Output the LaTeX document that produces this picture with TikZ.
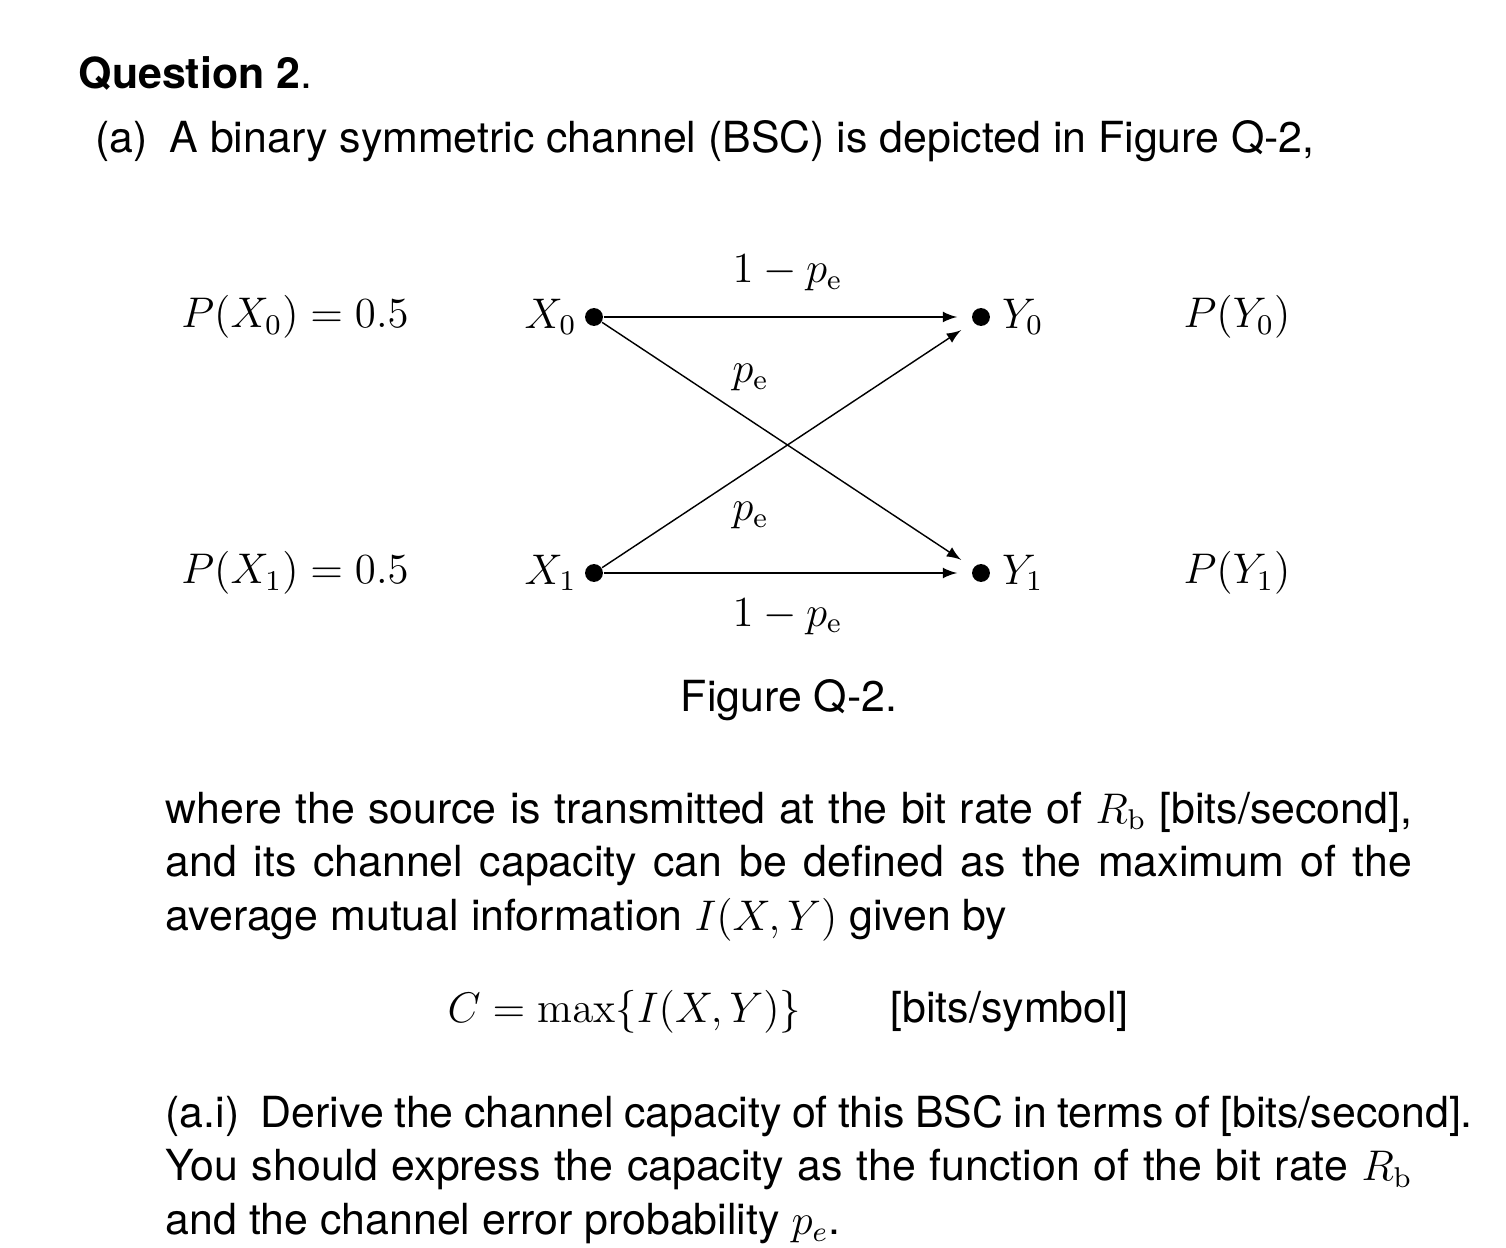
\documentclass[tikz,border=0pt,12pt]{standalone}
\usepackage[no-math]{fontspec}
\setmainfont{TeX Gyre Heros}
\usepackage{amsmath}
\usetikzlibrary{arrows,positioning}

\begin{document}
\begin{tikzpicture}[x=0.28pt,y=-0.28pt,
  txt/.style={anchor=base west,inner sep=0pt},
  para/.style={anchor=base west,inner sep=0pt,text width=349pt,align=justify,
    font=\fontsize{12}{15.1}\selectfont},
  bitdot/.style={circle,fill,inner sep=0pt,minimum size=5pt},
  chan/.style={->,>=latex,shorten >=4pt}]
\useasboundingbox (0,0) rectangle (1506,1248);
\node[txt] (qhead) at (78,89) {\textbf{Question 2}.};
\node[txt] (qa) at (95,153) {(a)\hspace{6pt}A binary symmetric channel (BSC) is depicted in Figure Q-2,};
% channel
\node[bitdot] (x0) at (594,317) {};
\node[bitdot] (x1) at (594,573) {};
\node[bitdot] (y0) at (981,317) {};
\node[bitdot] (y1) at (981,573) {};
\node[left=1pt of x0,inner sep=1pt] (lx0) {$X_0$};
\node[left=1pt of x1,inner sep=1pt] (lx1) {$X_1$};
\node[right=2pt of y0,inner sep=1pt] (ly0) {$Y_0$};
\node[right=2pt of y1,inner sep=1pt] (ly1) {$Y_1$};
\node (px0) at (295,317) {$P(X_0)=0.5$};
\node (px1) at (295,573) {$P(X_1)=0.5$};
\node (py0) at (1237,317) {$P(Y_0)$};
\node (py1) at (1237,573) {$P(Y_1)$};
\draw[chan] (x0) -- node[above=3pt] {$1-p_{\mathrm{e}}$} (y0);
\draw[chan] (x1) -- node[below=3pt] {$1-p_{\mathrm{e}}$} (y1);
\draw[chan] (x0) -- node[pos=0.4,above=4pt] {$p_{\mathrm{e}}$} (y1);
\draw[chan] (x1) -- node[pos=0.4,below=5pt] {$p_{\mathrm{e}}$} (y0);
\node (cap) at (789,700) {Figure Q-2.};
% text below
\node[para] (desc) at (165,823) {where the source is transmitted at the bit rate of $R_{\mathrm{b}}$ [bits/second],\linebreak
  and its channel capacity can be defined as the maximum of the\linebreak
  average mutual information $I(X,Y)$ given by};
\node[txt] (cdef) at (447,1022) {$C=\max\{I(X,Y)\}$};
\node[txt] (cunit) at (890,1022) {[bits/symbol]};
\node[para] (qai) at (165,1127) {\makebox[366pt][s]{(a.i)\hspace{6pt}Derive the channel capacity of this BSC in terms of [bits/second].}\linebreak
  You should express the capacity as the function of the bit rate $R_{\mathrm{b}}$\linebreak
  and the channel error probability $p_e$.};
\end{tikzpicture}
\end{document}
